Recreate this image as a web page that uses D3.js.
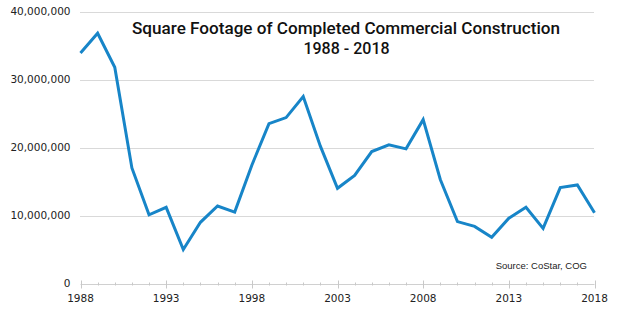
<!DOCTYPE html>
<html>
<head>
<meta charset="utf-8">
<script src="https://cdn.jsdelivr.net/npm/d3@7"></script>
<style>
  html, body { margin: 0; padding: 0; background: #fff; }
  svg { display: block; }
</style>
</head>
<body>
<svg id="chart" width="623" height="322"></svg>
<script>
const years = d3.range(1988, 2019);
const sqft = [
  33900000, 36800000, 31800000, 17000000, 10100000, 11200000, 5000000, 9000000,
  11400000, 10500000, 17400000, 23500000, 24400000, 27500000, 20200000, 14000000,
  15900000, 19400000, 20400000, 19800000, 24100000, 15300000, 9100000, 8400000,
  6800000, 9600000, 11200000, 8100000, 14100000, 14500000, 10400000
];
const yTicks = [0, 10000000, 20000000, 30000000, 40000000];
const xTickLabels = [1988, 1993, 1998, 2003, 2008, 2013, 2018];
const titleLines = ["Square Footage of Completed Commercial Construction", "1988 - 2018"];
const sourceText = "Source: CoStar, COG";

const svg = d3.select("#chart");
const x = d3.scaleLinear().domain([1988, 2018]).range([80.5, 594.5]);
const y = d3.scaleLinear().domain([0, 40000000]).range([283.5, 11.5]);

// gridlines
svg.append("g")
  .selectAll("line")
  .data(yTicks.filter(d => d > 0))
  .join("line")
  .attr("x1", 80).attr("x2", 594)
  .attr("y1", d => Math.round(y(d)) + 0.5).attr("y2", d => Math.round(y(d)) + 0.5)
  .attr("stroke", "#d9d9d9").attr("stroke-width", 1);

// y labels
const fmt = d3.format(",");
svg.append("g")
  .selectAll("text")
  .data(yTicks)
  .join("text")
  .attr("x", 70.5)
  .attr("y", d => y(d))
  .attr("dy", "0.35em")
  .attr("text-anchor", "end")
  .attr("font-family", "'DejaVu Sans', sans-serif")
  .attr("font-size", "10.5px")
  .attr("fill", "#222")
  .text(d => fmt(d));

// x axis line
const axisY = Math.round(y(0)) + 0.5;
svg.append("line")
  .attr("x1", x(1988)).attr("x2", x(2018))
  .attr("y1", axisY).attr("y2", axisY)
  .attr("stroke", "#d0d0d0").attr("stroke-width", 1);

// minor ticks (every year)
svg.append("g")
  .selectAll("line")
  .data(years)
  .join("line")
  .attr("x1", d => Math.round(x(d)) + 0.5).attr("x2", d => Math.round(x(d)) + 0.5)
  .attr("y1", d => xTickLabels.includes(d) ? axisY - 4 : axisY - 2)
  .attr("y2", d => xTickLabels.includes(d) ? axisY + 4 : axisY + 1)
  .attr("stroke", "#c8c8c8").attr("stroke-width", 1);

// x labels
svg.append("g")
  .selectAll("text")
  .data(xTickLabels)
  .join("text")
  .attr("x", d => x(d))
  .attr("y", 302)
  .attr("text-anchor", "middle")
  .attr("font-family", "'DejaVu Sans', sans-serif")
  .attr("font-size", "10.5px")
  .attr("fill", "#222")
  .text(d => d);

// line
const line = d3.line()
  .x((d, i) => x(years[i]))
  .y(d => y(d));
svg.append("path")
  .datum(sqft)
  .attr("d", line)
  .attr("fill", "none")
  .attr("stroke", "#1785c8")
  .attr("stroke-width", 3)
  .attr("stroke-linejoin", "miter");

// title
svg.append("text")
  .attr("x", 346).attr("y", 34)
  .attr("text-anchor", "middle")
  .attr("font-family", "Roboto, sans-serif")
  .attr("font-weight", 500)
  .attr("font-size", "16px")
  .attr("fill", "#111")
  .attr("textLength", 428)
  .attr("lengthAdjust", "spacingAndGlyphs")
  .text(titleLines[0]);
svg.append("text")
  .attr("x", 346.5).attr("y", 54)
  .attr("text-anchor", "middle")
  .attr("font-family", "Roboto, sans-serif")
  .attr("font-weight", 500)
  .attr("font-size", "16px")
  .attr("fill", "#111")
  .text(titleLines[1]);

// source
svg.append("text")
  .attr("x", 587).attr("y", 269)
  .attr("text-anchor", "end")
  .attr("font-family", "'Liberation Sans', Arial, sans-serif")
  .attr("font-size", "9.5px")
  .attr("fill", "#222")
  .text(sourceText);
</script>
</body>
</html>
